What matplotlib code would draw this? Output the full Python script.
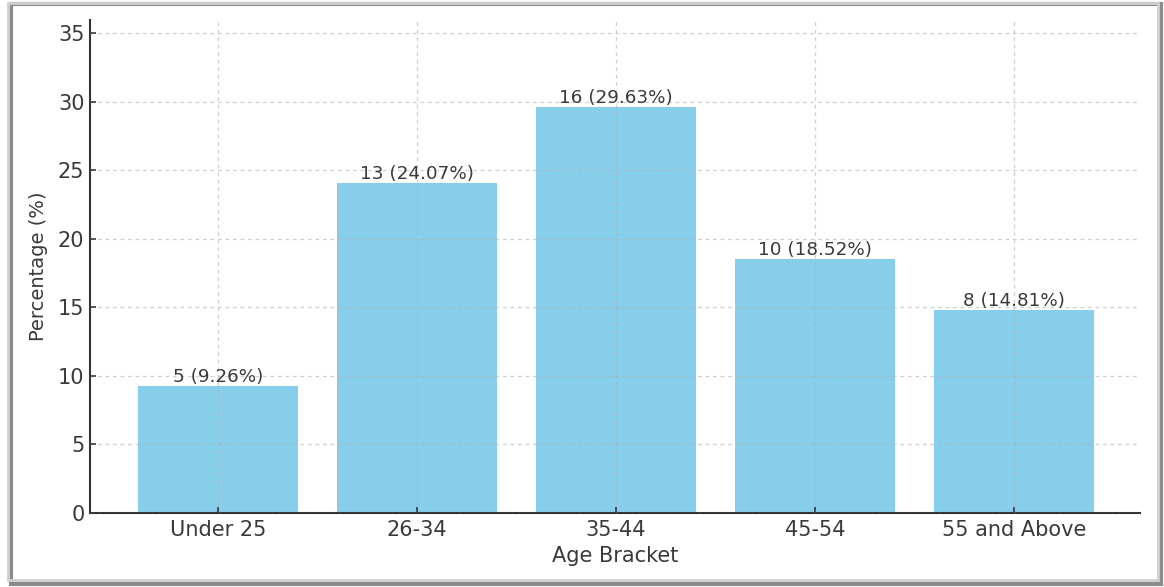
import matplotlib
matplotlib.use("Agg")
import matplotlib.pyplot as plt
from matplotlib.patches import Rectangle

categories = ["Under 25", "26-34", "35-44", "45-54", "55 and Above"]
counts = [5, 13, 16, 10, 8]
percentages = [9.26, 24.07, 29.63, 18.52, 14.81]
y_ticks = [0, 5, 10, 15, 20, 25, 30, 35]

plt.rcParams["font.family"] = ["DejaVu Sans"]
text_color = "#3a3a3a"

fig = plt.figure(figsize=(11.64, 5.87), dpi=100)
fig.patch.set_facecolor("white")
ax = fig.add_axes([90 / 1164, 1 - 513 / 587, (1140 - 90) / 1164, (513 - 20) / 587])

x = list(range(len(categories)))
bars = ax.bar(x, percentages, width=0.8, color="#87ceeb", zorder=2)

for xi, c, p in zip(x, counts, percentages):
    ax.text(xi, p, f"{c} ({p:.2f}%)", ha="center", va="bottom",
            fontsize=13.2, color=text_color, zorder=4)

ax.set_xlim(-0.643, 4.633)
ax.set_ylim(0, 35.95)
ax.set_xticks(x)
ax.set_xticklabels(categories)
ax.set_yticks(y_ticks)
ax.tick_params(axis="both", labelsize=15, colors=text_color, length=4,
               width=1.2, direction="in")
ax.tick_params(axis="y", pad=4)
ax.tick_params(axis="x", pad=5)
ax.set_xlabel("Age Bracket", fontsize=15, color=text_color, labelpad=4)
ax.set_ylabel("Percentage (%)", fontsize=14, color=text_color, labelpad=7)

ax.grid(True, linestyle=(0, (3, 3)), color="#b0b0b0", linewidth=0.9,
        alpha=0.6, zorder=3)
ax.set_axisbelow(False)
for s in ("top", "right"):
    ax.spines[s].set_visible(False)
for s in ("left", "bottom"):
    ax.spines[s].set_color("#333333")
    ax.spines[s].set_linewidth(1.5)

# outer frame with a soft shadow on the right and bottom
fig.patches.append(Rectangle((11 / 1164, 1 - 584 / 587), 1150 / 1164, 580 / 587,
                             transform=fig.transFigure, facecolor="none",
                             edgecolor="#8c8c8c", linewidth=3, zorder=0))
fig.patches.append(Rectangle((8 / 1164, 1 - 580 / 587), 1150 / 1164, 577 / 587,
                             transform=fig.transFigure, facecolor="none",
                             edgecolor="#d0d0d0", linewidth=2, zorder=1))

fig.savefig("out.png", dpi=100)
